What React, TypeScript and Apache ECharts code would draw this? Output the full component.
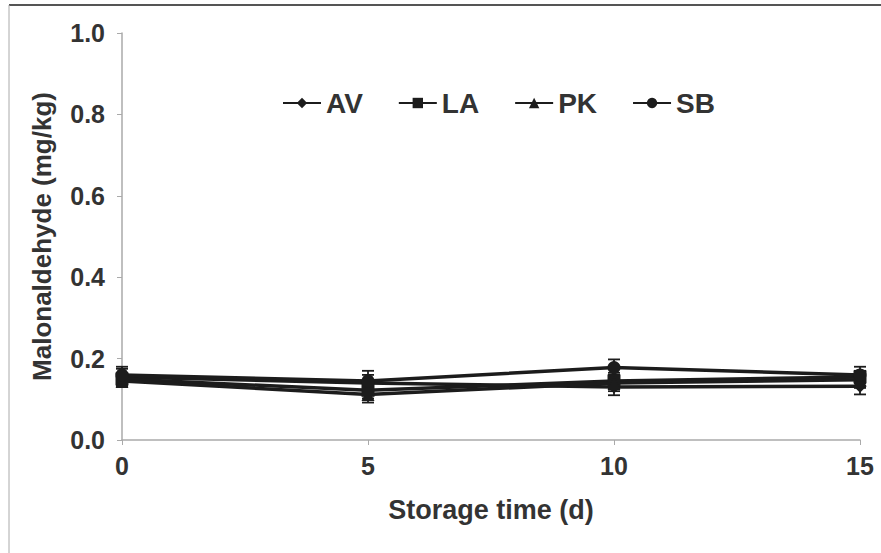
import React, { useEffect, useRef } from "react";
import * as echarts from "echarts";

const days = [0, 5, 10, 15];
const seriesNames = ["AV", "LA", "PK", "SB"];
const symbols = ["diamond", "rect", "triangle", "circle"];
const avValues = [0.155, 0.14, 0.13, 0.132];
const laValues = [0.15, 0.122, 0.145, 0.155];
const pkValues = [0.145, 0.112, 0.14, 0.148];
const sbValues = [0.16, 0.145, 0.178, 0.16];
const avErr = [0.02, 0.02, 0.02, 0.02];
const laErr = [0.015, 0.02, 0.02, 0.015];
const pkErr = [0.015, 0.02, 0.02, 0.02];
const sbErr = [0.02, 0.025, 0.02, 0.02];
const yTicks = [0, 0.2, 0.4, 0.6, 0.8, 1.0];

const allValues = [avValues, laValues, pkValues, sbValues];
const allErrs = [avErr, laErr, pkErr, sbErr];

export default function App() {
  const ref = useRef<HTMLDivElement>(null);
  useEffect(() => {
    if (!ref.current) return;
    const chart = echarts.init(ref.current, null, { renderer: "svg" });
    const font = "'Liberation Sans', Arial, sans-serif";
    const lineSeries = seriesNames.map((name, i) => ({
      name,
      type: "line",
      data: days.map((d, j) => [d, allValues[i][j]]),
      symbol: symbols[i],
      symbolSize: 13,
      lineStyle: { color: "#1c1c1c", width: 3.5 },
      itemStyle: { color: "#1c1c1c" },
      z: 3,
    }));
    const errSeries = seriesNames.map((name, i) => ({
      type: "custom",
      name: name + "-err",
      data: days.map((d, j) => [d, allValues[i][j] - allErrs[i][j], allValues[i][j] + allErrs[i][j]]),
      renderItem: (params: any, api: any) => {
        const lo = api.coord([api.value(0), api.value(1)]);
        const hi = api.coord([api.value(0), api.value(2)]);
        const hw = 6;
        const st = { stroke: "#1c1c1c", lineWidth: 1.8 };
        return {
          type: "group",
          children: [
            { type: "line", shape: { x1: lo[0], y1: lo[1], x2: hi[0], y2: hi[1] }, style: st },
            { type: "line", shape: { x1: lo[0] - hw, y1: lo[1], x2: lo[0] + hw, y2: lo[1] }, style: st },
            { type: "line", shape: { x1: hi[0] - hw, y1: hi[1], x2: hi[0] + hw, y2: hi[1] }, style: st },
          ],
        };
      },
      z: 2,
    }));
    chart.setOption({
      animation: false,
      backgroundColor: "#ffffff",
      textStyle: { fontFamily: font },
      graphic: [
        { type: "line", shape: { x1: 9, y1: 5, x2: 881, y2: 5 }, style: { stroke: "#555", lineWidth: 2 } },
        { type: "line", shape: { x1: 9, y1: 5, x2: 9, y2: 553 }, style: { stroke: "#aaa", lineWidth: 1 } },
      ],
      legend: {
        data: seriesNames,
        left: 277,
        top: 84,
        itemWidth: 38,
        itemHeight: 13,
        itemGap: 35,
        textStyle: { fontSize: 28, fontWeight: "bold", color: "#333", fontFamily: font },
      },
      grid: { left: 122, right: 21, top: 33, bottom: 113 },
      xAxis: {
        type: "value",
        min: 0,
        max: 15,
        interval: 5,
        name: "Storage time (d)",
        nameLocation: "middle",
        nameGap: 56,
        nameTextStyle: { fontSize: 27, fontWeight: "bold", color: "#333" },
        axisLine: { lineStyle: { color: "#aaa", width: 1.5 } },
        axisTick: { show: true, length: 5, lineStyle: { color: "#aaa" } },
        axisLabel: { fontSize: 25, fontWeight: "bold", color: "#333", margin: 13 },
        splitLine: { show: false },
      },
      yAxis: {
        type: "value",
        min: yTicks[0],
        max: yTicks[yTicks.length - 1],
        interval: 0.2,
        name: "Malonaldehyde (mg/kg)",
        nameLocation: "middle",
        nameGap: 67,
        nameTextStyle: { fontSize: 26, fontWeight: "bold", color: "#333" },
        axisLine: { show: true, lineStyle: { color: "#aaa", width: 1.5 } },
        axisTick: { show: true, length: 5, lineStyle: { color: "#aaa" } },
        axisLabel: { fontSize: 25, fontWeight: "bold", color: "#333", margin: 17, formatter: (v: number) => v.toFixed(1) },
        splitLine: { show: false },
      },
      series: [...errSeries, ...lineSeries],
    });
    return () => chart.dispose();
  }, []);
  return <div ref={ref} style={{ width: 881, height: 553, position: "fixed", left: 0, top: 0 }} />;
}
